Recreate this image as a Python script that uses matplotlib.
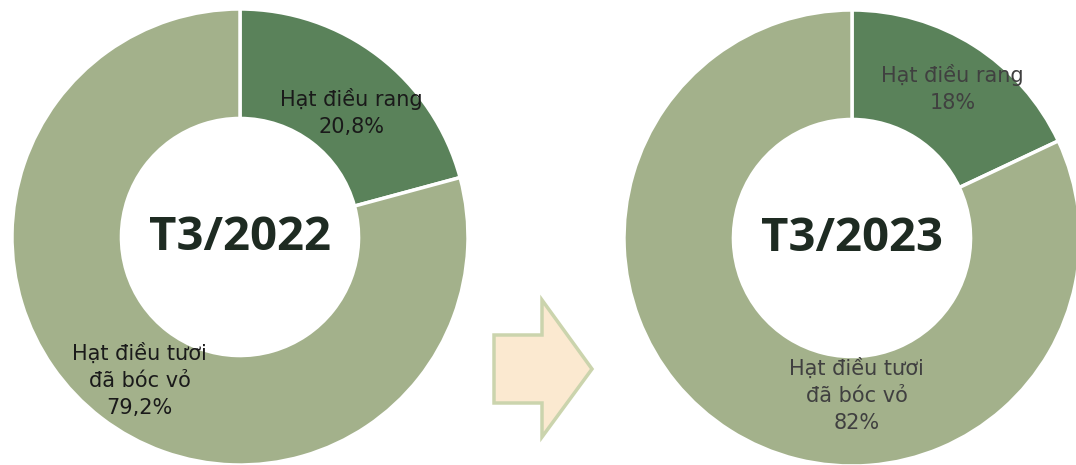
import matplotlib
matplotlib.use("Agg")
import matplotlib.pyplot as plt
from matplotlib.patches import Polygon

categories = ["Hạt điều rang", "Hạt điều tươi\nđã bóc vỏ"]
values_2022 = [20.8, 79.2]
values_2023 = [18, 82]
labels_2022 = ["20,8%", "79,2%"]
labels_2023 = ["18%", "82%"]
titles = ["T3/2022", "T3/2023"]

colors = ["#5a825a", "#a3b18b"]
W, H = 1076, 465
fig = plt.figure(figsize=(W / 100, H / 100), dpi=100)
R = 228

def make_axes(cx, cy_top):
    cy = H - cy_top
    return fig.add_axes([(cx - R) / W, (cy - R) / H, 2 * R / W, 2 * R / H])

ax1 = make_axes(240, 237)
ax2 = make_axes(852, 238)

label_pos = {
    0: [(0.49, 0.545), (-0.44, -0.63)],
    1: [(0.44, 0.655), (0.02, -0.69)],
}
text_colors = ["#1a1a1a", "#404040"]

for i, (ax, vals, labs, title) in enumerate(zip([ax1, ax2], [values_2022, values_2023],
                                                [labels_2022, labels_2023], titles)):
    ax.pie(vals, colors=colors, startangle=90, counterclock=False, radius=1,
           wedgeprops=dict(width=0.48, edgecolor="white", linewidth=2.5))
    ax.set_xlim(-1, 1)
    ax.set_ylim(-1, 1)
    ax.set_aspect("equal")
    ax.axis("off")
    for (x, y), cat, lab in zip(label_pos[i], categories, labs):
        ax.text(x, y, f"{cat}\n{lab}", ha="center", va="center", fontsize=15,
                color=text_colors[i], family="DejaVu Sans", linespacing=1.45)
    ax.text(0, 0, title, ha="center", va="center", fontsize=34, fontweight="bold",
            color="#1e2b22", family="Open Sans")

# arrow shape between charts (figure pixel coords)
pts = [(494, 335), (542, 335), (542, 300), (592, 369), (542, 437), (542, 403), (494, 403)]
pts = [(x / W, 1 - y / H) for x, y in pts]
fig.patches.append(Polygon(pts, closed=True, transform=fig.transFigure,
                           facecolor="#fbe9d0", edgecolor="#cbd4ad", linewidth=2.5))

fig.savefig("out.png", dpi=100)
